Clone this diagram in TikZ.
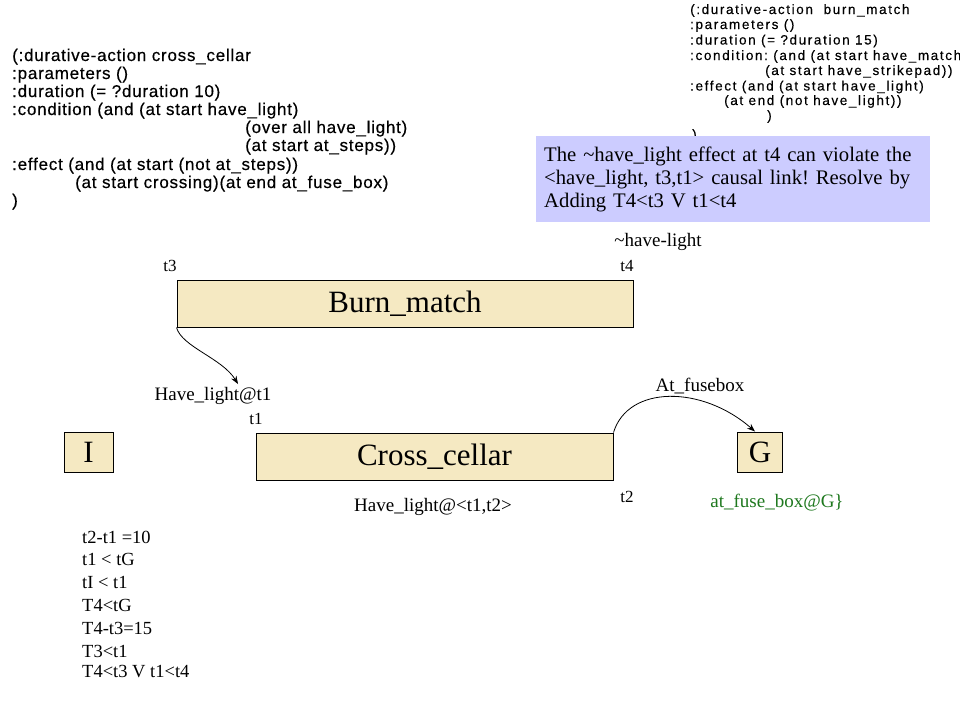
\documentclass[tikz,border=0pt]{standalone}
\usepackage{fontspec}
\setmainfont{Liberation Serif}
\newfontfamily\codefont[LetterSpace=4.5,FakeBold=0.4]{Liberation Sans}
\newfontfamily\codefontb[LetterSpace=12,FakeBold=0.3]{Liberation Sans}
\usetikzlibrary{arrows.meta}
\definecolor{boxfill}{RGB}{245,233,194}
\definecolor{notefill}{RGB}{204,204,255}
\definecolor{okgreen}{RGB}{30,120,30}
\tikzset{
  actbox/.style={draw=black, line width=1pt, fill=boxfill, inner sep=0pt, font=\fontsize{31}{31}\selectfont},
  lab/.style={inner sep=0pt, font=\fontsize{19}{19}\selectfont},
  tlab/.style={inner sep=0pt, font=\fontsize{17}{17}\selectfont},
  cons/.style={inner sep=0pt, anchor=west, font=\fontsize{18.5}{18.5}\selectfont},
  codeA/.style={inner sep=0pt, anchor=base west, font=\codefont\fontsize{17}{17}\selectfont},
  codeB/.style={inner sep=0pt, anchor=base west, font=\codefontb\fontsize{13.5}{13.5}\selectfont},
  link/.style={draw=black, line width=0.8pt, -{Stealth[length=8pt,width=6pt]}},
  notebox/.style={fill=notefill, draw=none, anchor=north west, text width=378pt, inner xsep=8pt, inner ysep=0pt, minimum height=86pt, align=left, font=\fontsize{20.7}{23}\selectfont}
}
\frenchspacing
\begin{document}
\begin{tikzpicture}[x=1pt,y=-1pt]
\useasboundingbox (0,0) rectangle (960,720);
\fill[white] (0,0) rectangle (960,720);

% cross_cellar code
\node[codeA] (ca1) at (12,61) {(:durative-action cross\_cellar};
\node[codeA] (ca2) at (12,79) {:parameters ()};
\node[codeA] (ca3) at (12,97) {:duration (= ?duration 10)};
\node[codeA] (ca4) at (12,115) {:condition (and (at start have\_light)};
\node[codeA] (ca5) at (245,133) {(over all have\_light)};
\node[codeA] (ca6) at (245,151) {(at start at\_steps))};
\node[codeA] (ca7) at (12,170) {:effect (and (at start (not at\_steps))};
\node[codeA] (ca8) at (75,188) {(at start crossing)(at end at\_fuse\_box)};
\node[codeA] (ca9) at (12,206) {)};

% burn_match code
\node[codeB] (cb1) at (690,14) {(:durative-action \ burn\_match};
\node[codeB] (cb2) at (690,29) {:parameters ()};
\node[codeB] (cb3) at (690,44.5) {:duration (= ?duration 15)};
\node[codeB] (cb4) at (690,60) {:condition: (and (at start have\_match};
\node[codeB] (cb5) at (765,75) {(at start have\_strikepad))};
\node[codeB] (cb6) at (690,90.5) {:effect (and (at start have\_light)};
\node[codeB] (cb7) at (724,105) {(at end (not have\_light))};
\node[codeB] (cb8) at (767,120) {)};
\node[codeB] (cb9) at (692,139) {)};

% note
\node[notebox] (note) at (536,136) {The \textasciitilde have\_light effect at t4 can violate the\\
<have\_light, t3,t1> causal link! Resolve by\\
Adding T4<t3 V t1<t4};

% labels
\node[lab] (nhl) at (658,242) {\textasciitilde have-light};
\node[tlab] (lt3) at (170,266) {t3};
\node[tlab] (lt4) at (627,266) {t4};

% action boxes
\node[actbox, minimum width=456pt, minimum height=47pt] (bm) at (405,303.5) {Burn\_match};
\node[actbox, minimum width=357pt, minimum height=47pt] (cc) at (434.5,456.5) {Cross\_cellar};
\node[actbox, minimum width=49pt, minimum height=40pt] (init) at (88.5,452) {I};
\node[actbox, minimum width=45pt, minimum height=40pt] (goal) at (760,452) {G};

\node[lab] (hl1) at (213,396) {Have\_light@t1};
\node[tlab] (lt1) at (256,419) {t1};
\node[lab] (afl) at (700,386) {At\_fusebox};
\node[tlab] (lt2) at (627,497) {t2};
\node[lab] (hl2) at (433,507) {Have\_light@<t1,t2>};
\node[lab, text=okgreen] (afb) at (777,503) {at\_fuse\_box@G\}};

% connectors
\coordinate (h1end) at (238,384);
\draw[link] (bm.south west) .. controls (182,347) and (222,358) .. (h1end);
\draw[link] (cc.north east) .. controls (628,385) and (702,385) .. (goal.north west -| 755,432);

% constraints
\node[cons] (k1) at (82,537) {t2-t1 =10};
\node[cons] (k2) at (82,559) {t1 < tG};
\node[cons] (k3) at (82,582) {tI < t1};
\node[cons] (k4) at (82,605) {T4<tG};
\node[cons] (k5) at (82,628) {T4-t3=15};
\node[cons] (k6) at (82,651) {T3<t1};
\node[cons] (k7) at (82,672) {T4<t3 V t1<t4};
\end{tikzpicture}
\end{document}
